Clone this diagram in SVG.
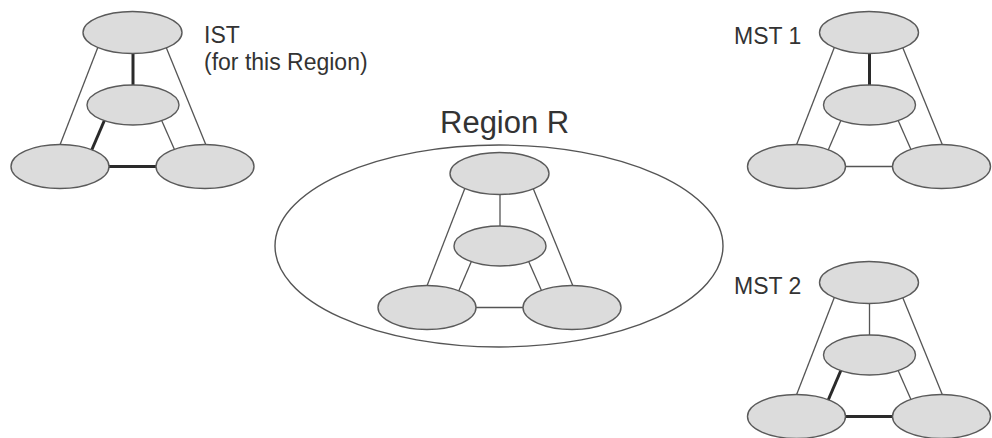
<svg xmlns="http://www.w3.org/2000/svg" width="992" height="438" viewBox="0 0 992 438">
<style>
.bg{fill:#ffffff}
.region{fill:none;stroke:#555555;stroke-width:1.4}
.node{fill:#dcdcdc;stroke:#5a5a5a;stroke-width:1.4}
.thin{stroke:#555555;stroke-width:1.3;fill:none}
.thick{stroke:#2a2a2a;stroke-width:3;fill:none}
.lbl{font-family:"Liberation Sans",Arial,sans-serif;font-size:23px;fill:#333333}
.big{font-family:"Liberation Sans",Arial,sans-serif;font-size:31px;fill:#333333}
</style>
<rect class="bg" x="0" y="0" width="992" height="438"/>
<g id="region-r">
<ellipse class="region" cx="499" cy="246" rx="224" ry="101"/>
</g>
<g id="connectors">
<g id="ist-edges" transform="translate(0,0)">
<line class="thin" x1="98" y1="47" x2="58" y2="150"/>
<line class="thin" x1="166" y1="47" x2="208" y2="150"/>
<line class="thick" x1="133" y1="50" x2="133" y2="90"/>
<line class="thick" x1="105" y1="119" x2="90" y2="154"/>
<line class="thin" x1="161" y1="119" x2="176" y2="153"/>
<line class="thick" x1="105" y1="166.5" x2="160" y2="166.5"/>
</g>
<g id="region-edges" transform="translate(367,141)">
<line class="thin" x1="98" y1="47" x2="58" y2="150"/>
<line class="thin" x1="166" y1="47" x2="208" y2="150"/>
<line class="thin" x1="133" y1="50" x2="133" y2="90"/>
<line class="thin" x1="105" y1="119" x2="90" y2="154"/>
<line class="thin" x1="161" y1="119" x2="176" y2="153"/>
<line class="thin" x1="105" y1="166.5" x2="160" y2="166.5"/>
</g>
<g id="mst1-edges" transform="translate(736.5,0)">
<line class="thin" x1="98" y1="47" x2="58" y2="150"/>
<line class="thin" x1="166" y1="47" x2="208" y2="150"/>
<line class="thick" x1="133" y1="50" x2="133" y2="90"/>
<line class="thin" x1="105" y1="119" x2="90" y2="154"/>
<line class="thin" x1="161" y1="119" x2="176" y2="153"/>
<line class="thin" x1="105" y1="166.5" x2="160" y2="166.5"/>
</g>
<g id="mst2-edges" transform="translate(736.5,250)">
<line class="thin" x1="98" y1="47" x2="58" y2="150"/>
<line class="thin" x1="166" y1="47" x2="208" y2="150"/>
<line class="thin" x1="133" y1="50" x2="133" y2="90"/>
<line class="thick" x1="105" y1="119" x2="90" y2="154"/>
<line class="thin" x1="161" y1="119" x2="176" y2="153"/>
<line class="thick" x1="105" y1="166.5" x2="160" y2="166.5"/>
</g>
</g>
<g id="ist-nodes" transform="translate(0,0)">
<g id="ist-top"><ellipse class="node" cx="132.5" cy="32.5" rx="49.5" ry="21"/></g>
<g id="ist-mid"><ellipse class="node" cx="133" cy="105" rx="46" ry="20"/></g>
<g id="ist-bl"><ellipse class="node" cx="60" cy="166.5" rx="49" ry="22"/></g>
<g id="ist-br"><ellipse class="node" cx="205" cy="166.5" rx="49" ry="22"/></g>
</g>
<g id="region-nodes" transform="translate(367,141)">
<g id="reg-top"><ellipse class="node" cx="132.5" cy="32.5" rx="49.5" ry="21"/></g>
<g id="reg-mid"><ellipse class="node" cx="133" cy="105" rx="46" ry="20"/></g>
<g id="reg-bl"><ellipse class="node" cx="60" cy="166.5" rx="49" ry="22"/></g>
<g id="reg-br"><ellipse class="node" cx="205" cy="166.5" rx="49" ry="22"/></g>
</g>
<g id="mst1-nodes" transform="translate(736.5,0)">
<g id="mst1-top"><ellipse class="node" cx="132.5" cy="32.5" rx="49.5" ry="21"/></g>
<g id="mst1-mid"><ellipse class="node" cx="133" cy="105" rx="46" ry="20"/></g>
<g id="mst1-bl"><ellipse class="node" cx="60" cy="166.5" rx="49" ry="22"/></g>
<g id="mst1-br"><ellipse class="node" cx="205" cy="166.5" rx="49" ry="22"/></g>
</g>
<g id="mst2-nodes" transform="translate(736.5,250)">
<g id="mst2-top"><ellipse class="node" cx="132.5" cy="32.5" rx="49.5" ry="21"/></g>
<g id="mst2-mid"><ellipse class="node" cx="133" cy="105" rx="46" ry="20"/></g>
<g id="mst2-bl"><ellipse class="node" cx="60" cy="166.5" rx="49" ry="22"/></g>
<g id="mst2-br"><ellipse class="node" cx="205" cy="166.5" rx="49" ry="22"/></g>
</g>
<g id="labels">
<text class="lbl" x="204" y="43">IST</text>
<text class="lbl" x="204" y="70">(for this Region)</text>
<text class="big" x="440" y="133">Region R</text>
<text class="lbl" x="734" y="44">MST 1</text>
<text class="lbl" x="734" y="294">MST 2</text>
</g>
</svg>
